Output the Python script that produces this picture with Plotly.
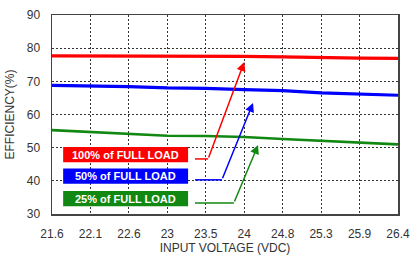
import plotly.graph_objects as go

voltage_labels = ["21.6", "22.1", "22.6", "23", "23.5", "24", "24.8", "25.3", "25.9", "26.4"]
eff_100 = [77.7, 77.7, 77.6, 77.6, 77.5, 77.5, 77.4, 77.1, 77.0, 76.9]
eff_50 = [68.8, 68.7, 68.4, 68.0, 67.9, 67.5, 67.2, 66.5, 66.1, 65.8]
eff_25 = [55.3, 54.7, 54.0, 53.6, 53.5, 53.2, 52.6, 52.1, 51.5, 51.0]
y_ticks = [30, 40, 50, 60, 70, 80, 90]

series_names = ["100% of FULL LOAD", "50% of FULL LOAD", "25% of FULL LOAD"]
colors = ["#ff0000", "#0000ff", "#118811"]
widths = [3.2, 3.2, 2.6]

x = list(range(len(voltage_labels)))

fig = go.Figure()
for vals, c, w, n in zip([eff_100, eff_50, eff_25], colors, widths, series_names):
    fig.add_trace(go.Scatter(x=x, y=vals, mode="lines", line=dict(color=c, width=w),
                             name=n, showlegend=False))

# label boxes + arrows (positions in data coordinates)
box_y = [47.9, 41.4, 34.6]
hseg_y = [46.6, 40.3, 33.3]
hseg_end = [4.06, 4.42, 4.73]
tips = [(5.0, 75.8), (5.23, 63.5), (5.36, 50.8)]
for n, c, by, hy, he, (tx, ty) in zip(series_names, colors, box_y, hseg_y, hseg_end, tips):
    fig.add_shape(type="rect", x0=0.29, x1=3.54, y0=by - 2.3, y1=by + 2.3,
                  xref="x", yref="y", fillcolor=c, line=dict(width=0), layer="above")
    fig.add_annotation(x=1.915, y=by, xref="x", yref="y", text=n, showarrow=False,
                       font=dict(family="Liberation Sans, Arial", size=11, color="white", weight="bold"))
    fig.add_shape(type="line", x0=3.72, x1=he, y0=hy, y1=hy, xref="x", yref="y",
                  line=dict(color=c, width=1.5))
    fig.add_annotation(x=tx, y=ty, ax=he, ay=hy, xref="x", yref="y", axref="x", ayref="y",
                       text="", showarrow=True, arrowhead=2, arrowsize=1.2, arrowwidth=1.5,
                       arrowcolor=c, standoff=0, startstandoff=0)

axis_common = dict(showgrid=True, gridcolor="#333333", griddash="2px,2px", gridwidth=1,
                   showline=True, linecolor="#444444", linewidth=1.5, mirror=True,
                   zeroline=False, ticks="", automargin=False, ticklabeloverflow="allow",
                   tickfont=dict(family="Liberation Sans, Arial", size=12, color="#333333"))

fig.update_xaxes(range=[0, 9], tickmode="array", tickvals=x, ticktext=voltage_labels,
                 ticklabelstandoff=8,
                 title=dict(text="INPUT VOLTAGE (VDC)", standoff=2,
                            font=dict(family="Liberation Sans, Arial", size=12, color="#333333")),
                 **axis_common)
fig.update_yaxes(range=[30, 90], tickmode="array", tickvals=y_ticks, ticklabelstandoff=8,
                 title=dict(text="EFFICIENCY(%)", standoff=9,
                            font=dict(family="Liberation Sans, Arial", size=12, color="#333333")),
                 **axis_common)

fig.update_layout(width=410, height=257, margin=dict(l=52, r=12, t=15, b=43),
                  plot_bgcolor="white", paper_bgcolor="white", hovermode=False)

# remove the default page margin so the figure fills the window exactly
fig.write_html("out.html", config={"displayModeBar": False, "staticPlot": True},
               post_script="document.body.style.margin='0';document.body.style.overflow='hidden';")
